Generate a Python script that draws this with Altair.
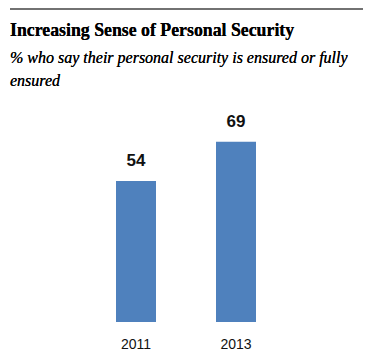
import altair as alt
import pandas as pd

years = ["2011", "2013"]
values = [54, 69]
title_text = "Increasing Sense of Personal Security"
subtitle_lines = ["% who say their personal security is ensured or fully", "ensured"]

df = pd.DataFrame({"year": years, "value": values})

x = alt.X("year:N", sort=years,
          scale=alt.Scale(paddingInner=0, paddingOuter=0),
          axis=alt.Axis(title=None, labelAngle=0, domain=False, ticks=False,
                        labelFont="Liberation Sans", labelFontSize=14,
                        labelColor="#111", labelPadding=15))
y = alt.Y("value:Q", scale=alt.Scale(domain=[0, 85], nice=False),
          axis=None)

bars = alt.Chart(df).mark_bar(size=40, color="#4F81BD").encode(x=x, y=y)
labels = alt.Chart(df).mark_text(
    baseline="bottom", dy=-11, font="Liberation Sans", fontWeight="bold",
    fontSize=17, color="#111"
).encode(x=x, y=y, text="value:Q")

rule = alt.Chart(df).mark_rule(color="#444", strokeWidth=1.2, clip=False).encode(
    x=alt.value(-76), x2=alt.value(277), y=alt.value(-91)
)

title = alt.Chart(df).mark_text(
    align="left", baseline="alphabetic", font="Liberation Serif",
    fontSize=17.8, fontWeight="bold", color="#000", clip=False
).encode(x=alt.value(-76), y=alt.value(-64), text=alt.value(title_text))

sub1 = alt.Chart(df).mark_text(
    align="left", baseline="alphabetic", font="Liberation Serif",
    fontSize=16, fontStyle="italic", color="#000", clip=False
).encode(x=alt.value(-76), y=alt.value(-37), text=alt.value(subtitle_lines[0]))

sub2 = alt.Chart(df).mark_text(
    align="left", baseline="alphabetic", font="Liberation Serif",
    fontSize=16, fontStyle="italic", color="#000", clip=False
).encode(x=alt.value(-76), y=alt.value(-14), text=alt.value(subtitle_lines[1]))

chart = alt.layer(bars, labels, rule, title, sub1, sub2).properties(
    width=200, height=222,
    padding={"left": 78, "top": 92, "right": 84, "bottom": 32},
    autosize=alt.AutoSizeParams(type="none"),
).configure_view(stroke=None)

chart.save("out.html", embed_options={"renderer": "svg", "actions": False})
